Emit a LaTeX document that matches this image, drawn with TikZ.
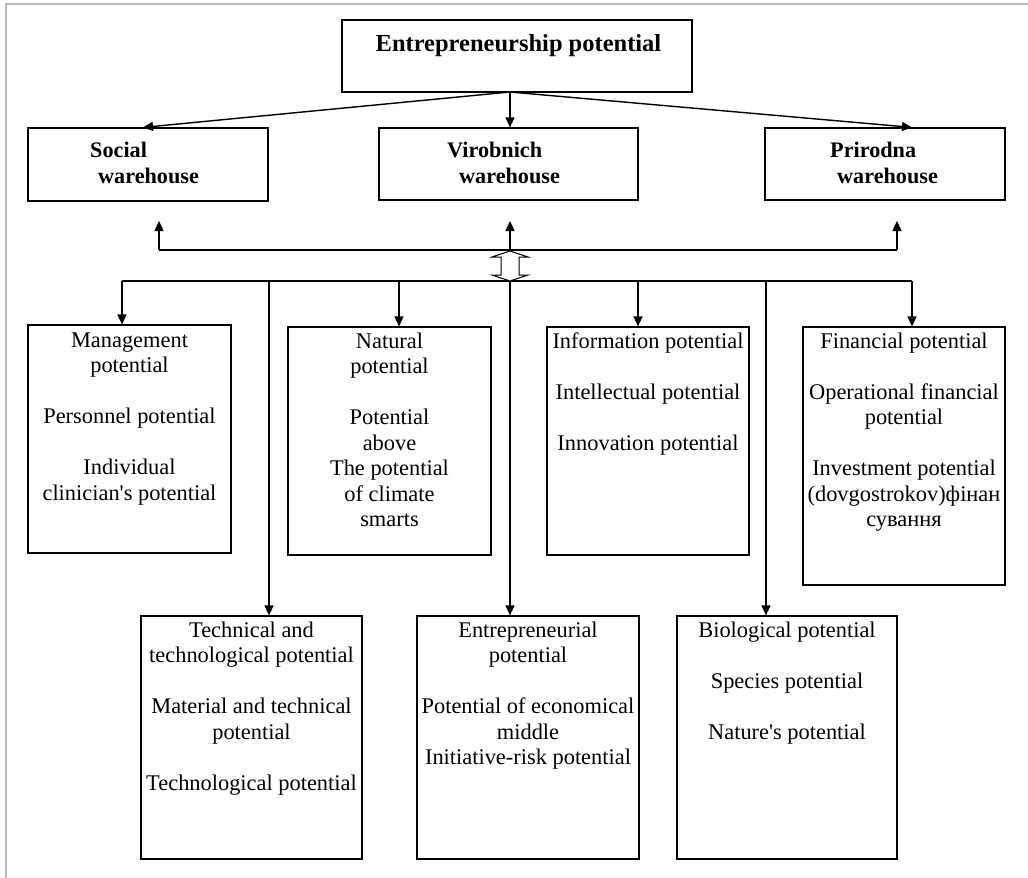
\documentclass[tikz,border=0pt]{standalone}
\usepackage{fontspec}
\setmainfont{Liberation Serif}
\usetikzlibrary{arrows.meta}
\begin{document}
\begin{tikzpicture}[x=1pt,y=-1pt,
  box/.style={draw=black, line width=1.2pt, inner sep=0pt},
  body/.style={inner sep=0pt, align=center, font=\fontsize{22.4}{25.5}\selectfont},
  head/.style={inner sep=0pt, align=left, font=\fontsize{22.2}{26}\selectfont\bfseries},
  link/.style={line width=1.4pt},
  arr/.style={line width=1.4pt, -{Triangle[length=10pt,width=9pt]}},
]
\useasboundingbox (0,0) rectangle (1028,878);

% frame
\draw[gray!55, line width=2.5pt] (6,878) -- (6,4) -- (1028,4);

% root
\node[box, minimum width=350pt, minimum height=72pt] (root) at (517,56) {};
\node[inner sep=0pt, font=\fontsize{24.5}{28}\selectfont\bfseries, anchor=base] (rootT) at (518.5,51) {Entrepreneurship potential};

% warehouses
\node[box, minimum width=240pt, minimum height=73pt] (soc) at (148,164.5) {};
\node[head, anchor=north west] (socT) at (90,138.8) {\strut Social\\\hspace*{8pt}warehouse};
\node[box, minimum width=259pt, minimum height=72pt] (vir) at (508.5,164) {};
\node[head, anchor=north west] (virT) at (447,138.8) {\strut Virobnich\\\hspace*{12pt}warehouse};
\node[box, minimum width=240pt, minimum height=72pt] (prir) at (885,164) {};
\node[head, anchor=north west] (prirT) at (830,138.8) {\strut Prirodna\\\hspace*{7pt}warehouse};

\coordinate (hub) at (510,92);
\draw[arr] (hub) -- ([xshift=-5pt]soc.north);
\draw[arr] (hub) -- (hub |- vir.north);
\draw[arr] (hub) -- ([xshift=27pt]prir.north);

% upper bus
\coordinate (u1) at (159,250);
\coordinate (u2) at (510,251);
\coordinate (u3) at (897,250);
\coordinate (t1) at (159,221);
\coordinate (t2) at (510,221);
\coordinate (t3) at (897,221);
\draw[link] (u1) -- (u3);
\draw[arr] (u1) -- (t1);
\draw[arr] (u2) -- (t2);
\draw[arr] (u3) -- (t3);

% first row of potentials
\node[box, minimum width=203pt, minimum height=228pt] (mgmt) at (129.5,439) {};
\node[body, anchor=north] (mgmtT) at (129.5,329.2) {\strut Management\\potential\\[25.5pt]Personnel potential\\[25.5pt]Individual\\clinician\textquotesingle s potential};
\node[box, minimum width=203pt, minimum height=228pt] (nat) at (389.5,441) {};
\node[body, anchor=north] (natT) at (389.5,330.2) {\strut Natural\\potential\\[25.5pt]Potential\\above\\The potential\\of climate\\smarts};
\node[box, minimum width=202pt, minimum height=228pt] (info) at (648,441) {};
\node[body, anchor=north] (infoT) at (648,330.2) {\strut Information potential\\[25.5pt]Intellectual potential\\[25.5pt]Innovation potential};
\node[box, minimum width=202pt, minimum height=258pt] (fin) at (904,456) {};
\node[body, anchor=north] (finT) at (904,330.2) {\strut Financial potential\\[25.5pt]Operational financial\\potential\\[25.5pt]Investment potential\\(dovgostrokov)фінан\\сування};

% second row of potentials
\node[box, minimum width=221pt, minimum height=243pt] (tech) at (251.5,737.5) {};
\node[body, anchor=north] (techT) at (251.5,619.2) {\strut Technical and\\technological potential\\[25.5pt]Material and technical\\potential\\[25.5pt]Technological potential};
\node[box, minimum width=222pt, minimum height=243pt] (ent) at (528,737.5) {};
\node[body, anchor=north] (entT) at (528,619.2) {\strut Entrepreneurial\\potential\\[25.5pt]Potential of economical\\middle\\Initiative-risk potential};
\node[box, minimum width=220pt, minimum height=243pt] (bio) at (787,737.5) {};
\node[body, anchor=north] (bioT) at (787,619.2) {\strut Biological potential\\[25.5pt]Species potential\\[25.5pt]Nature\textquotesingle s potential};

% lower bus
\coordinate (l1) at (122,281);
\coordinate (l2) at (269,281);
\coordinate (l3) at (399,281);
\coordinate (l4) at (510,281);
\coordinate (l5) at (638,281);
\coordinate (l6) at (766,281);
\coordinate (l7) at (912,281);
\draw[link] (l1) -- (l7);
\draw[arr] (l1) -- (l1 |- mgmt.north);
\draw[arr] (l3) -- (l3 |- nat.north);
\draw[arr] (l5) -- (l5 |- info.north);
\draw[arr] (l7) -- (l7 |- fin.north);
\draw[arr] (l2) -- (l2 |- tech.north);
\draw[arr] (l4) -- (l4 |- ent.north);
\draw[arr] (l6) -- (l6 |- bio.north);

% hollow two-way arrow between the buses
\draw[line width=1pt, fill=white] (510,251) -- (528,257) -- (519,257) -- (519,275) -- (528,275) -- (510,281) -- (492,275) -- (501,275) -- (501,257) -- (492,257) -- cycle;
\end{tikzpicture}
\end{document}
